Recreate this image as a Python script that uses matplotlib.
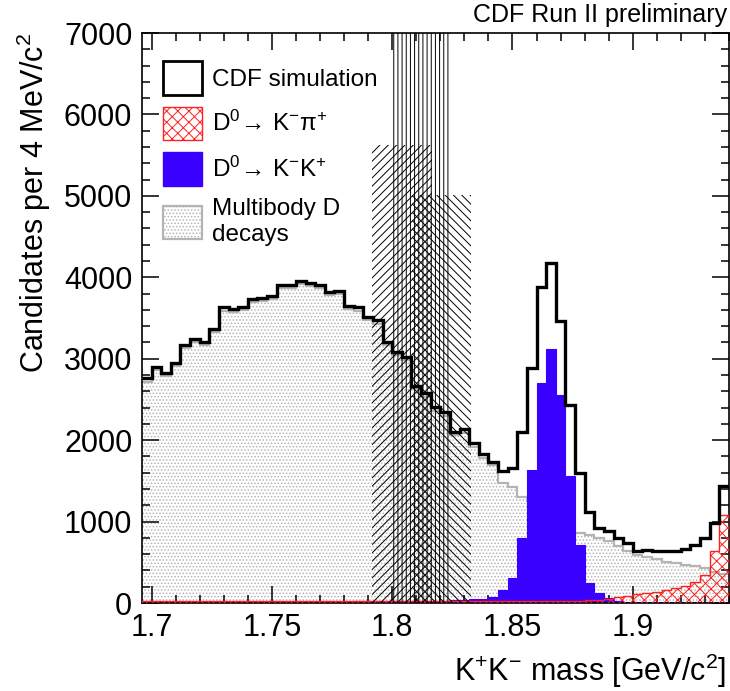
import numpy as np
import matplotlib
matplotlib.use("Agg")
import matplotlib.pyplot as plt
from matplotlib.patches import Patch
from matplotlib.ticker import MultipleLocator, FuncFormatter

plt.rcParams['font.family'] = ['Liberation Sans', 'DejaVu Sans']
plt.rcParams['mathtext.fontset'] = 'custom'
plt.rcParams['mathtext.rm'] = 'Liberation Sans'
plt.rcParams['mathtext.it'] = 'Liberation Sans:italic'
plt.rcParams['mathtext.default'] = 'regular'
plt.rcParams['hatch.linewidth'] = 0.7

# 4 MeV bins, K+K- mass in GeV/c^2
bin_lo = 1.696
bin_width = 0.004
n_bins = 61

# CDF simulation (total)
total = [2760, 2900, 2830, 2950, 3170, 3240, 3210, 3370, 3630, 3610,
         3640, 3735, 3750, 3775, 3905, 3905, 3955, 3935, 3905, 3825,
         3835, 3650, 3630, 3516, 3470, 3210, 3086, 3025, 2670, 2575,
         2403, 2350, 2104, 2133, 1969, 1830, 1735, 1625, 1654, 2104,
         2882, 3885, 4172, 3463, 2432, 1593, 1121, 917, 884, 794,
         733, 639, 651, 639, 639, 639, 659, 712, 794, 979,
         1437]

# multibody D decays
multibody = [2720, 2860, 2790, 2910, 3130, 3200, 3170, 3330, 3590, 3570,
             3600, 3695, 3710, 3735, 3865, 3865, 3915, 3895, 3865, 3785,
             3795, 3610, 3590, 3475, 3430, 3170, 3045, 2985, 2630, 2535,
             2360, 2300, 2060, 2085, 1915, 1777, 1690, 1470, 1420, 1306,
             1249, 1179, 1053, 909, 872, 860, 840, 794, 760, 700,
             635, 585, 565, 545, 510, 490, 470, 460, 426, 385,
             360]

# D0 -> K- K+
kk = [10, 10, 10, 10, 12, 12, 12, 12, 12, 12,
      14, 14, 14, 14, 15, 15, 15, 16, 16, 17,
      18, 18, 19, 20, 20, 22, 22, 24, 25, 26,
      28, 30, 32, 36, 45, 55, 78, 160, 303, 794,
      1633, 2706, 3119, 2554, 1560, 712, 241, 119, 57, 25,
      15, 12, 12, 10, 10, 10, 10, 10, 10, 10,
      10]

# D0 -> K- pi+
kpi = [20, 22, 20, 22, 20, 22, 20, 22, 20, 20,
       22, 20, 20, 22, 20, 20, 20, 20, 22, 20,
       20, 22, 22, 24, 24, 25, 26, 28, 28, 30,
       30, 30, 30, 30, 30, 28, 28, 28, 26, 26,
       26, 26, 26, 26, 26, 28, 32, 40, 55, 78,
       90, 105, 120, 135, 155, 185, 210, 260, 350, 640,
       1080]

# hatched mass windows
band_lo = [1.7915, 1.7998, 1.8081]
band_hi = [1.8165, 1.8237, 1.8327]
band_top = [5620, 7000, 5010]
band_hatch = ['////', '||||', '\\\\\\\\']

edges = bin_lo + bin_width * np.arange(n_bins + 1)

fig = plt.figure(figsize=(7.3, 6.91), dpi=100)
ax = fig.add_axes([0.1945, 0.1273, 0.8041, 0.8249])

ax.stairs(multibody, edges, baseline=0, fill=True, facecolor='white',
          edgecolor='#b4b4b4', hatch='.....', linewidth=0, zorder=1)
ax.stairs(multibody, edges, baseline=None, color='#b4b4b4', linewidth=1.6, zorder=1.5)
ax.stairs(kk, edges, baseline=0, fill=True, facecolor='#3a00ff',
          edgecolor='#3a00ff', linewidth=0.8, zorder=2)
ax.stairs(kpi, edges, baseline=0, fill=True, facecolor='none',
          edgecolor='#ff2020', hatch='xxx', linewidth=1.0, zorder=3)

for lo, hi, top, h in zip(band_lo, band_hi, band_top, band_hatch):
    ax.bar(lo, top, width=hi - lo, align='edge', fill=False, hatch=h,
           edgecolor='black', linewidth=0, zorder=4)

ax.stairs(total, edges, baseline=None, color='black', linewidth=2.4, zorder=5)

ax.set_xlim(edges[0], edges[-1])
ax.set_ylim(0, 7000)

ax.xaxis.set_major_locator(MultipleLocator(0.05))
ax.xaxis.set_minor_locator(MultipleLocator(0.01))
ax.xaxis.set_major_formatter(FuncFormatter(lambda v, p: '%g' % round(v, 3)))
ax.yaxis.set_major_locator(MultipleLocator(1000))
ax.yaxis.set_minor_locator(MultipleLocator(200))
ax.tick_params(which='both', direction='in', top=True, right=True, width=1.1)
ax.tick_params(which='major', length=12, labelsize=22)
ax.tick_params(which='minor', length=6)
ax.tick_params(axis='x', pad=7)
ax.tick_params(axis='y', pad=7)
for s in ax.spines.values():
    s.set_linewidth(1.2)

ax.set_xlabel(r'K$^{+}$K$^{-}$ mass [GeV/c$^{2}$]', fontsize=22)
ax.xaxis.set_label_coords(0.996, -0.085)
ax.xaxis.label.set_horizontalalignment('right')
ax.set_ylabel(r'Candidates per 4 MeV/c$^{2}$', fontsize=22, loc='top', labelpad=8)

handles = [
    Patch(facecolor='white', edgecolor='black', linewidth=2.0),
    Patch(facecolor='white', edgecolor='#ff2020', hatch='xxx', linewidth=1.0),
    Patch(facecolor='#3a00ff', edgecolor='#3a00ff'),
    Patch(facecolor='white', edgecolor='#b4b4b4', hatch='.....', linewidth=1.6),
]
labels = ['CDF simulation',
          r'D$^{0}\!\rightarrow\,$K$^{-}$π$^{+}$',
          r'D$^{0}\!\rightarrow\,$K$^{-}$K$^{+}$',
          'Multibody D\ndecays']
ax.legend(handles, labels, loc='upper left', bbox_to_anchor=(0.036, 0.951),
          frameon=False, fontsize=17.5, handlelength=1.6, handleheight=1.75,
          handletextpad=0.4, labelspacing=0.5, borderpad=0, borderaxespad=0)

fig.text(0.996, 0.978, 'CDF Run II preliminary', ha='right', va='center', fontsize=18)

fig.savefig('out.png', dpi=100)
